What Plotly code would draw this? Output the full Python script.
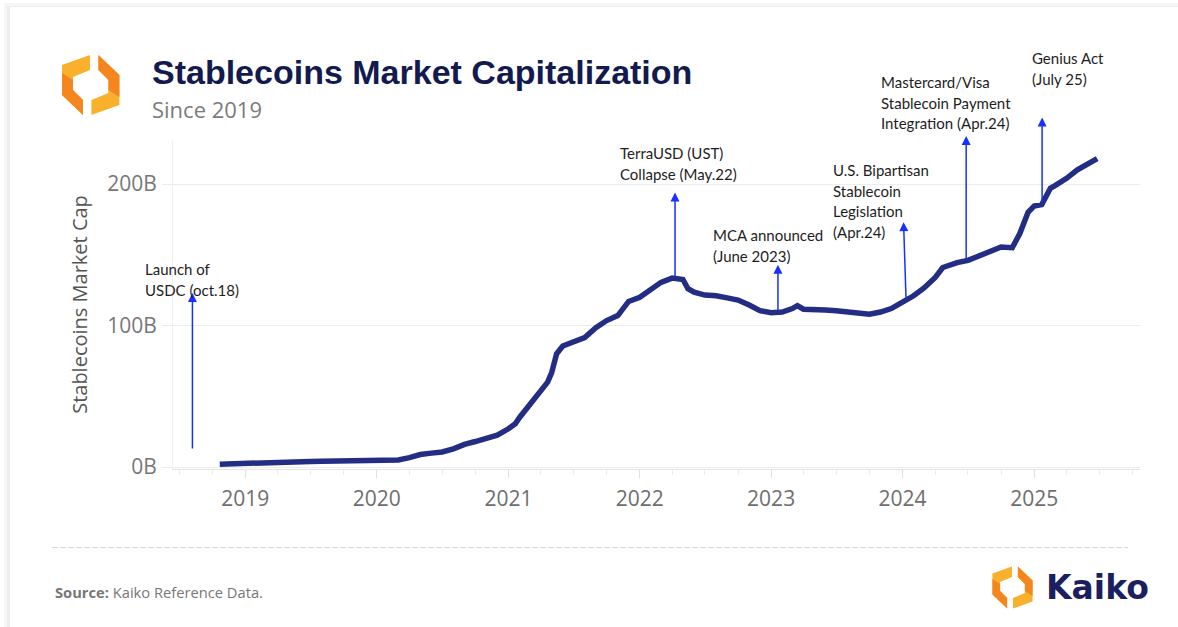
import plotly.graph_objects as go

# ---- data: total stablecoin market capitalization (billions USD) ----
dates = [
    "2018-10-22", "2018-12-01", "2019-01-01", "2019-02-01", "2019-03-01", "2019-04-01",
    "2019-05-01", "2019-06-01", "2019-07-01", "2019-08-01", "2019-09-01", "2019-10-01",
    "2019-11-01", "2019-12-01", "2020-01-01", "2020-02-01", "2020-03-01", "2020-04-01",
    "2020-05-01", "2020-06-01", "2020-07-01", "2020-08-01", "2020-09-01", "2020-10-01",
    "2020-11-01", "2020-12-01", "2021-01-01", "2021-01-20", "2021-02-01", "2021-03-01",
    "2021-04-01", "2021-04-20", "2021-05-01", "2021-05-15", "2021-06-01", "2021-07-01",
    "2021-08-01", "2021-09-01", "2021-10-01", "2021-11-01", "2021-12-01", "2022-01-01",
    "2022-02-01", "2022-03-01", "2022-04-01", "2022-05-01", "2022-05-15", "2022-06-01",
    "2022-07-01", "2022-08-01", "2022-09-01", "2022-10-01", "2022-11-01", "2022-12-01",
    "2023-01-01", "2023-02-01", "2023-03-01", "2023-03-15", "2023-04-01", "2023-05-01",
    "2023-06-01", "2023-07-01", "2023-08-01", "2023-09-01", "2023-10-01", "2023-11-01",
    "2023-12-01", "2024-01-01", "2024-02-01", "2024-03-01", "2024-04-01", "2024-04-22",
    "2024-06-01", "2024-07-01", "2024-08-01", "2024-09-01", "2024-10-01", "2024-11-01",
    "2024-11-22", "2024-12-15", "2025-01-01", "2025-01-22", "2025-02-15", "2025-03-01",
    "2025-04-01", "2025-05-01", "2025-06-01", "2025-06-25",
]
market_cap_b = [
    2.0, 2.2, 2.3, 2.3, 2.4, 2.5,
    2.8, 3.3, 3.9, 4.1, 4.3, 4.4,
    4.5, 4.6, 4.8, 5.0, 5.0, 6.6,
    8.8, 9.8, 10.6, 12.8, 16.0, 18.0,
    20.0, 22.5, 27.0, 30.5, 35.0, 43.5,
    53.0, 60.0, 66.5, 80.0, 85.5, 88.0,
    91.5, 98.5, 103.5, 107.0, 117.0, 120.0,
    126.0, 130.5, 133.5, 132.5, 126.0, 123.5,
    121.5, 121.0, 119.5, 118.0, 114.5, 110.5,
    109.0, 109.5, 112.0, 114.0, 111.5, 111.5,
    111.0, 110.5, 109.5, 109.0, 108.0, 109.5,
    112.0, 116.5, 121.0, 126.5, 134.0, 141.0,
    144.5, 146.0, 149.0, 153.0, 155.5, 155.0,
    165.0, 180.0, 184.5, 185.5, 197.0, 199.0,
    204.0, 210.0, 214.5, 218.0,
]

# ---- event markers: arrow base (date, value), arrow tip (date, value), label ----
event_labels = [
    "Launch of\nUSDC (oct.18)",
    "TerraUSD (UST)\nCollapse (May.22)",
    "MCA announced\n(June 2023)",
    "U.S. Bipartisan\nStablecoin\nLegislation\n(Apr.24)",
    "Mastercard/Visa\nStablecoin Payment\nIntegration (Apr.24)",
    "Genius Act\n(July 25)",
]
event_base_dates = ["2018-08-07", "2022-04-09", "2023-01-20", "2024-01-11", "2024-06-26", "2025-01-23"]
event_tip_dates = ["2018-08-07", "2022-04-09", "2023-01-20", "2024-01-04", "2024-06-26", "2025-01-23"]
event_base_values = [12.0, 133.5, 110.0, 118.0, 145.6, 186.0]
event_tip_values = [123.0, 194.0, 143.0, 173.0, 234.0, 247.0]
# label anchor (left edge, centre of first line) in page pixels
event_label_px = [(145, 268), (620, 152), (713, 234), (833, 169), (881, 81), (1032, 57)]

year_ticks = ["2019-01-01", "2020-01-01", "2021-01-01", "2022-01-01", "2023-01-01", "2024-01-01", "2025-01-01"]
year_labels = ["2019", "2020", "2021", "2022", "2023", "2024", "2025"]
cap_ticks = [0, 100, 200]
cap_labels = ["0B", "100B", "200B"]

# ---- page geometry ----
WIDTH, HEIGHT = 1178, 627
L, T, R, B = 173, 140, 38, 158
PW, PH = WIDTH - L - R, HEIGHT - T - B


def px(x):
    return (x - L) / PW


def py(y):
    return 1 - (y - T) / PH


NAVY = "#242d84"
ARROW = "#1730ff"

fig = go.Figure()
fig.add_trace(go.Scatter(
    x=dates, y=market_cap_b, mode="lines",
    line=dict(color=NAVY, width=5.5, shape="linear"),
    hoverinfo="skip", showlegend=False,
))

annotations = []
# arrows
for bd, td, bv, tv in zip(event_base_dates, event_tip_dates, event_base_values, event_tip_values):
    annotations.append(dict(
        x=td, y=tv, ax=bd, ay=bv, xref="x", yref="y", axref="x", ayref="y",
        text="", showarrow=True, arrowhead=2, arrowsize=1.2, arrowwidth=1.5,
        arrowcolor=ARROW, standoff=0, startstandoff=0,
    ))
# event labels, one line each for even spacing
LINE_GAP = 20.7
for label, (lx, ly) in zip(event_labels, event_label_px):
    for i, line in enumerate(label.split("\n")):
        annotations.append(dict(
            x=px(lx - 2), y=py(ly + i * LINE_GAP + 1), xref="paper", yref="paper",
            xanchor="left", yanchor="middle", text=line, showarrow=False,
            font=dict(family="Lato", size=15, color="#1e1e1e"),
        ))

# title block
annotations.append(dict(
    x=px(150), y=py(72), xref="paper", yref="paper", xanchor="left", yanchor="middle",
    text="<b>Stablecoins Market Capitalization</b>", showarrow=False,
    font=dict(family="Liberation Sans", size=34, color="#131a4e"),
))
annotations.append(dict(
    x=px(150), y=py(109), xref="paper", yref="paper", xanchor="left", yanchor="middle",
    text="Since 2019", showarrow=False,
    font=dict(family="Open Sans", size=22, color="#7b7b7b"),
))
# footer
annotations.append(dict(
    x=px(53), y=py(592), xref="paper", yref="paper", xanchor="left", yanchor="middle",
    text="<b>Source:</b> Kaiko Reference Data.", showarrow=False,
    font=dict(family="Open Sans", size=14.7, color="#777777"),
))
annotations.append(dict(
    x=px(1044), y=py(587), xref="paper", yref="paper", xanchor="left", yanchor="middle",
    text="<b>Kaiko</b>", showarrow=False,
    font=dict(family="DejaVu Sans", size=33, color="#1b1f5f"),
))


def logo_paths(cx, cy, s):
    # two interlocking brackets forming a hexagon, centred on (cx, cy)
    left = [(-0.7, -30), (-28.7, -20), (-28.7, 10), (-7.7, 30), (-7.7, 15), (-17.7, 5), (-17.7, -8), (-0.7, -15)]
    shade = [(-28.7, -12), (-17.7, -5), (-17.7, 5), (-7.7, 15), (-7.7, 30), (-28.7, 10)]
    out = []
    for poly, col in ((left, "#f9b02d"), (shade, "#f5861f")):
        for sign in (1, -1):
            pts = [(cx + sign * x * s, cy + sign * y * s) for x, y in poly]
            d = "M " + " L ".join(f"{px(a):.5f},{py(b):.5f}" for a, b in pts) + " Z"
            out.append((d, col))
    return out


shapes = []
# soft card edge along the top and left
for inset, col in ((3, "#f6f6f6"), (6, "#eeeeee")):
    shapes.append(dict(type="rect", xref="paper", yref="paper", layer="below",
                       x0=px(inset + 1), x1=px(WIDTH + 20), y0=py(inset), y1=py(HEIGHT + 20),
                       fillcolor=col, line=dict(width=0)))
shapes.append(dict(type="rect", xref="paper", yref="paper", layer="below",
                   x0=px(10), x1=px(WIDTH + 20), y0=py(7), y1=py(HEIGHT + 20),
                   fillcolor="white", line=dict(width=0)))
for d, col in logo_paths(90.7, 85, 1.0) + logo_paths(1012.5, 587.5, 0.7):
    shapes.append(dict(type="path", path=d, xref="paper", yref="paper",
                       fillcolor=col, line=dict(width=0)))
shapes.append(dict(type="line", xref="paper", yref="paper", x0=px(52), x1=px(1128),
                   y0=py(547.5), y1=py(547.5), line=dict(color="#d6d6d6", width=1, dash="6px,2px")))

fig.update_layout(
    width=WIDTH, height=HEIGHT,
    margin=dict(l=L, r=R, t=T, b=B, autoexpand=False),
    paper_bgcolor="white", plot_bgcolor="rgba(0,0,0,0)",
    annotations=annotations, shapes=shapes, showlegend=False,
    xaxis=dict(
        type="date", range=["2018-06-14", "2025-10-22"],
        tickvals=year_ticks, ticktext=year_labels,
        showgrid=False, zeroline=False,
        showline=True, linecolor="#e4e4e4", linewidth=1,
        ticks="outside", ticklen=8, tickcolor="#e0e0e0",
        ticklabelstandoff=3,
        minor=dict(ticks="outside", ticklen=5, tickcolor="#ececec", dtick="M3", tick0="2018-01-01", showgrid=False),
        tickfont=dict(family="Open Sans", size=21, color="#6e6e6e"),
    ),
    yaxis=dict(
        range=[-1.41, 231.1],
        tickvals=cap_ticks, ticktext=cap_labels,
        showgrid=True, gridcolor="#ececec", gridwidth=1, zeroline=False,
        showline=True, linecolor="#f0f0f0", linewidth=1,
        ticks="outside", ticklen=10, tickcolor="#ececec",
        ticklabelstandoff=1,
        tickfont=dict(family="Open Sans", size=21, color="#777777"),
        title=dict(text="Stablecoins Market Cap", standoff=14,
                   font=dict(family="Open Sans", size=20, color="#555555")),
    ),
)

fig.write_html("out.html")
